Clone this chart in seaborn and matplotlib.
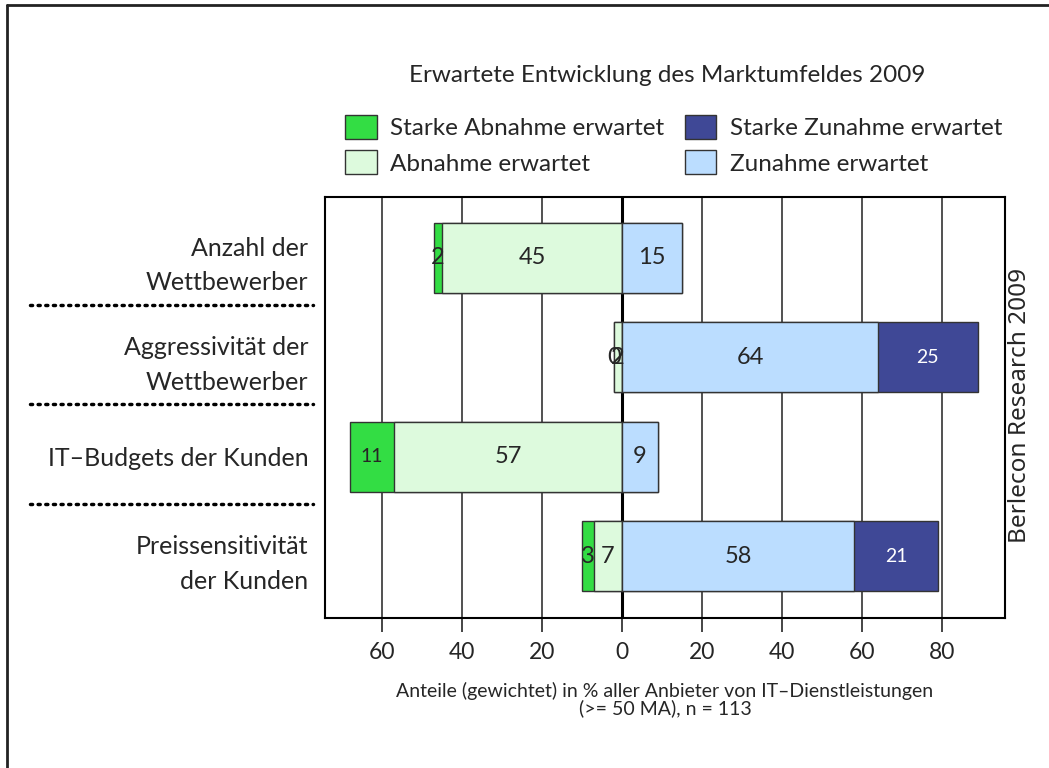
import numpy as np
import pandas as pd
import matplotlib
matplotlib.use("Agg")
import matplotlib.pyplot as plt
import matplotlib.transforms as mtransforms
from matplotlib.patches import Patch
from matplotlib.lines import Line2D
import seaborn as sns

# --- data ---
categories = ["Anzahl der\nWettbewerber", "Aggressivität der\nWettbewerber",
              "IT–Budgets der Kunden", "Preissensitivität\nder Kunden"]
starke_abnahme = [2, 0, 11, 3]
abnahme = [45, 2, 57, 7]
zunahme = [15, 64, 9, 58]
starke_zunahme = [0, 25, 0, 21]
ticks = [-60, -40, -20, 0, 20, 40, 60, 80]
tick_labels = [str(abs(t)) for t in ticks]

c_sa, c_a, c_z, c_sz = "#33dd44", "#ddfadd", "#bbddff", "#3f4896"

sns.set_style("white")
plt.rcParams['font.family'] = ['Lato', 'DejaVu Sans']

fig = plt.figure(figsize=(10.49, 7.68), dpi=100)
ax = fig.add_axes([0.3098, 0.1953, 0.6482, 0.5482])

df = pd.DataFrame({"cat": categories,
                   "neg_total": -(np.array(starke_abnahme) + np.array(abnahme)),
                   "neg_weak": -np.array(abnahme),
                   "pos_total": np.array(zunahme) + np.array(starke_zunahme),
                   "pos_weak": np.array(zunahme)})

common = dict(y="cat", data=df, orient="h", width=0.7, saturation=1,
              edgecolor="#333333", linewidth=1.0, ax=ax, zorder=2)
# stacked by layering cumulative totals under the inner segments
sns.barplot(x="neg_total", color=c_sa, **common)
sns.barplot(x="neg_weak", color=c_a, **common)
sns.barplot(x="pos_total", color=c_sz, **common)
sns.barplot(x="pos_weak", color=c_z, **common)

ax.set_xlim(-74.25, 95.75)
ax.set_ylim(3.62, -0.61)
ax.set_xticks(ticks)
ax.set_xticklabels(tick_labels, fontsize=16.5)
for t in ticks:
    ax.axvline(t, color="black" if t == 0 else "#333333",
               lw=2.2 if t == 0 else 1.2, zorder=0.8)
ax.tick_params(axis="x", direction="out", length=10, width=1.2, pad=7, bottom=True)
ax.tick_params(axis="y", length=0, pad=12)
ax.set_yticks(range(len(categories)))
ax.set_yticklabels(categories, fontsize=18, ha="right", linespacing=1.6)
ax.set_xlabel("Anteile (gewichtet) in % aller Anbieter von IT–Dienstleistungen\n(>= 50 MA), n = 113",
              fontsize=14, labelpad=14, linespacing=0.95)
ax.set_ylabel("")
for s in ax.spines.values():
    s.set_color("black")
    s.set_linewidth(1.5)

# value labels
for i in range(len(categories)):
    sa, a, z, sz = starke_abnahme[i], abnahme[i], zunahme[i], starke_zunahme[i]
    if sa > 0 or a > 0:
        ax.text(-a - sa / 2, i, str(sa), ha="center", va="center",
                fontsize=14 if sa >= 10 else 17, zorder=5)
    ax.text(-a / 2, i, str(a), ha="center", va="center", fontsize=17, zorder=5)
    ax.text(z / 2, i, str(z), ha="center", va="center", fontsize=17, zorder=5)
    if sz > 0:
        ax.text(z + sz / 2, i, str(sz), ha="center", va="center",
                fontsize=14, color="white", zorder=5)

# dotted separators in the label column
trans = mtransforms.blended_transform_factory(fig.transFigure, ax.transData)
for y in [0.48, 1.47, 2.47]:
    ax.add_line(Line2D([30 / 1049, 313 / 1049], [y, y], transform=trans,
                       color="black", lw=2.5, linestyle=(0, (0.6, 1.6)),
                       dash_capstyle="round", clip_on=False))

# title and legend
fig.text(667 / 1049, 1 - 76 / 768, "Erwartete Entwicklung des Marktumfeldes 2009",
         ha="center", va="center", fontsize=17.5)
handles = [Patch(facecolor=c, edgecolor="#333333", lw=1) for c in (c_sa, c_a, c_sz, c_z)]
labels = ["Starke Abnahme erwartet", "Abnahme erwartet",
          "Starke Zunahme erwartet", "Zunahme erwartet"]
fig.legend(handles, labels, ncol=2, loc="upper left",
           bbox_to_anchor=(345 / 1049, 1 - 115 / 768), frameon=False,
           fontsize=17.5, handlelength=1.3, handleheight=1.15, handletextpad=0.55,
           columnspacing=0.85, labelspacing=0.45, borderpad=0, borderaxespad=0)

# source
fig.text(1020 / 1049, 1 - 405 / 768, "Berlecon Research 2009", rotation=90,
         ha="center", va="center", fontsize=17.5, family=["Noto Sans", "DejaVu Sans"])

# frame lines of the figure
fig.add_artist(Line2D([7 / 1049, 1], [1 - 5 / 768, 1 - 5 / 768], color="#222222", lw=2))
fig.add_artist(Line2D([7 / 1049, 7 / 1049], [0, 1 - 5 / 768], color="#222222", lw=2))

fig.savefig("out.png", dpi=100)
